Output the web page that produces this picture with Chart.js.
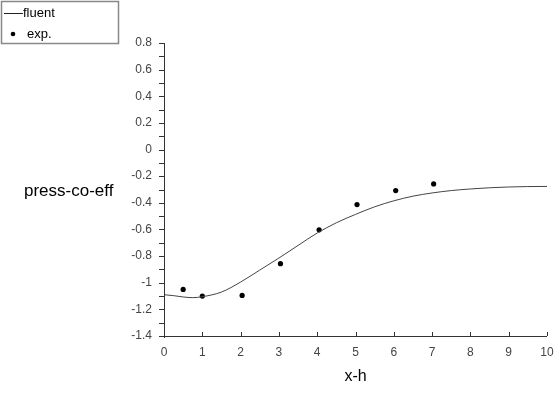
<!DOCTYPE html>
<html>
<head>
<meta charset="utf-8">
<script src="https://cdn.jsdelivr.net/npm/chart.js@4.4.1/dist/chart.umd.min.js"></script>
<style>
html,body{margin:0;padding:0;background:#fff;}
#wrap{width:558px;height:395px;position:relative;}
</style>
</head>
<body>
<div id="wrap"><canvas id="c" width="558" height="395"></canvas></div>
<script>
// fluent simulation curve
const fluentX = [0,0.25,0.5,0.75,1,1.5,2,2.5,3,3.5,4,4.5,5,5.5,6,6.5,7,7.5,8,8.5,9,9.5,10];
const fluentY = [-1.09,-1.097,-1.107,-1.112,-1.105,-1.07,-0.995,-0.905,-0.815,-0.72,-0.627,-0.55,-0.487,-0.43,-0.385,-0.35,-0.326,-0.308,-0.296,-0.287,-0.281,-0.278,-0.277];
// experimental points
const expX = [0.5,1,2.04,3.04,4.05,5.04,6.05,7.04];
const expY = [-1.05,-1.10,-1.095,-0.857,-0.603,-0.413,-0.308,-0.258];
// axes
const xTitle = 'x-h';
const yTitle = 'press-co-eff';
const legendLabels = ['fluent','exp.'];
const xMin = 0, xMax = 10, xStep = 1;
const yMin = -1.4, yMax = 0.8, yStep = 0.1;

const FONT = '"Liberation Sans", Arial, Helvetica, sans-serif';

const decor = {
  id: 'decor',
  afterDraw(chart) {
    const ctx = chart.ctx;
    const xs = chart.scales.x, ys = chart.scales.y;
    const x0 = xs.getPixelForValue(xMin), x1 = xs.getPixelForValue(xMax);
    const yb = ys.getPixelForValue(yMin), yt = ys.getPixelForValue(yMax);
    ctx.save();
    ctx.strokeStyle = '#333';
    ctx.lineWidth = 1;
    ctx.beginPath();
    // axes
    ctx.moveTo(Math.round(x0)+0.5, yt);
    ctx.lineTo(Math.round(x0)+0.5, yb + 2);
    ctx.moveTo(x0, Math.round(yb)+0.5);
    ctx.lineTo(x1, Math.round(yb)+0.5);
    // y ticks (outward, every 0.1)
    for (let i = 0; i <= Math.round((yMax - yMin)/yStep); i++) {
      const py = Math.round(ys.getPixelForValue(yMin + i*yStep)) + 0.5;
      ctx.moveTo(x0 - 5, py);
      ctx.lineTo(x0, py);
    }
    // x ticks (inward)
    for (let v = xMin; v <= xMax; v += xStep) {
      const px = Math.round(xs.getPixelForValue(v)) + 0.5;
      ctx.moveTo(px, yb);
      ctx.lineTo(px, yb - 4);
    }
    ctx.stroke();

    // titles
    ctx.fillStyle = '#000';
    ctx.font = '16px ' + FONT;
    ctx.textAlign = 'center';
    ctx.textBaseline = 'middle';
    ctx.fillText(xTitle, (x0 + x1)/2, 377);
    ctx.font = '17px ' + FONT;
    ctx.textAlign = 'left';
    ctx.fillText(yTitle, 24, 191);

    // legend
    ctx.strokeStyle = '#888';
    ctx.lineWidth = 1.5;
    ctx.strokeRect(1.5, 1.5, 117, 42);
    ctx.strokeStyle = '#222';
    ctx.lineWidth = 1;
    ctx.beginPath();
    ctx.moveTo(4, 13.5);
    ctx.lineTo(23, 13.5);
    ctx.stroke();
    ctx.fillStyle = '#000';
    ctx.beginPath();
    ctx.arc(13, 34, 2.3, 0, Math.PI*2);
    ctx.fill();
    ctx.font = '13px ' + FONT;
    ctx.textAlign = 'left';
    ctx.fillText(legendLabels[0], 23, 13);
    ctx.fillText(legendLabels[1], 27, 34);
    ctx.restore();
  }
};

new Chart(document.getElementById('c'), {
  type: 'scatter',
  data: {
    datasets: [
      {
        label: legendLabels[0],
        data: fluentX.map((x, i) => ({x, y: fluentY[i]})),
        showLine: true,
        borderColor: '#444',
        borderWidth: 1,
        pointRadius: 0,
        cubicInterpolationMode: 'monotone',
        fill: false
      },
      {
        label: legendLabels[1],
        data: expX.map((x, i) => ({x, y: expY[i]})),
        showLine: false,
        pointRadius: 2.6,
        pointBackgroundColor: '#000',
        pointBorderColor: '#000',
        borderWidth: 0
      }
    ]
  },
  options: {
    responsive: false,
    animation: false,
    layout: { padding: { left: 0, right: 11, top: 43, bottom: 0 } },
    plugins: { legend: { display: false }, tooltip: { enabled: false } },
    scales: {
      x: {
        type: 'linear', min: xMin, max: xMax,
        grid: { display: false, drawTicks: false },
        border: { display: false },
        ticks: { stepSize: xStep, padding: 9, color: '#444', font: { family: FONT, size: 12 }, maxRotation: 0 },
        afterFit(scale) { scale.height = 59; scale.paddingRight = 0; scale.paddingLeft = 0; }
      },
      y: {
        type: 'linear', min: yMin, max: yMax,
        grid: { display: false, drawTicks: false },
        border: { display: false },
        ticks: {
          stepSize: yStep, padding: 12, color: '#444', font: { family: FONT, size: 12 },
          autoSkip: false,
          callback(value, index) {
            if (index % 2 !== 0) return '';
            const v = Math.round(value * 10) / 10;
            return v === 0 ? '0' : String(v);
          }
        },
        afterFit(scale) { scale.width = 164; scale.paddingTop = 0; scale.paddingBottom = 0; }
      }
    }
  },
  plugins: [decor]
});
</script>
</body>
</html>
